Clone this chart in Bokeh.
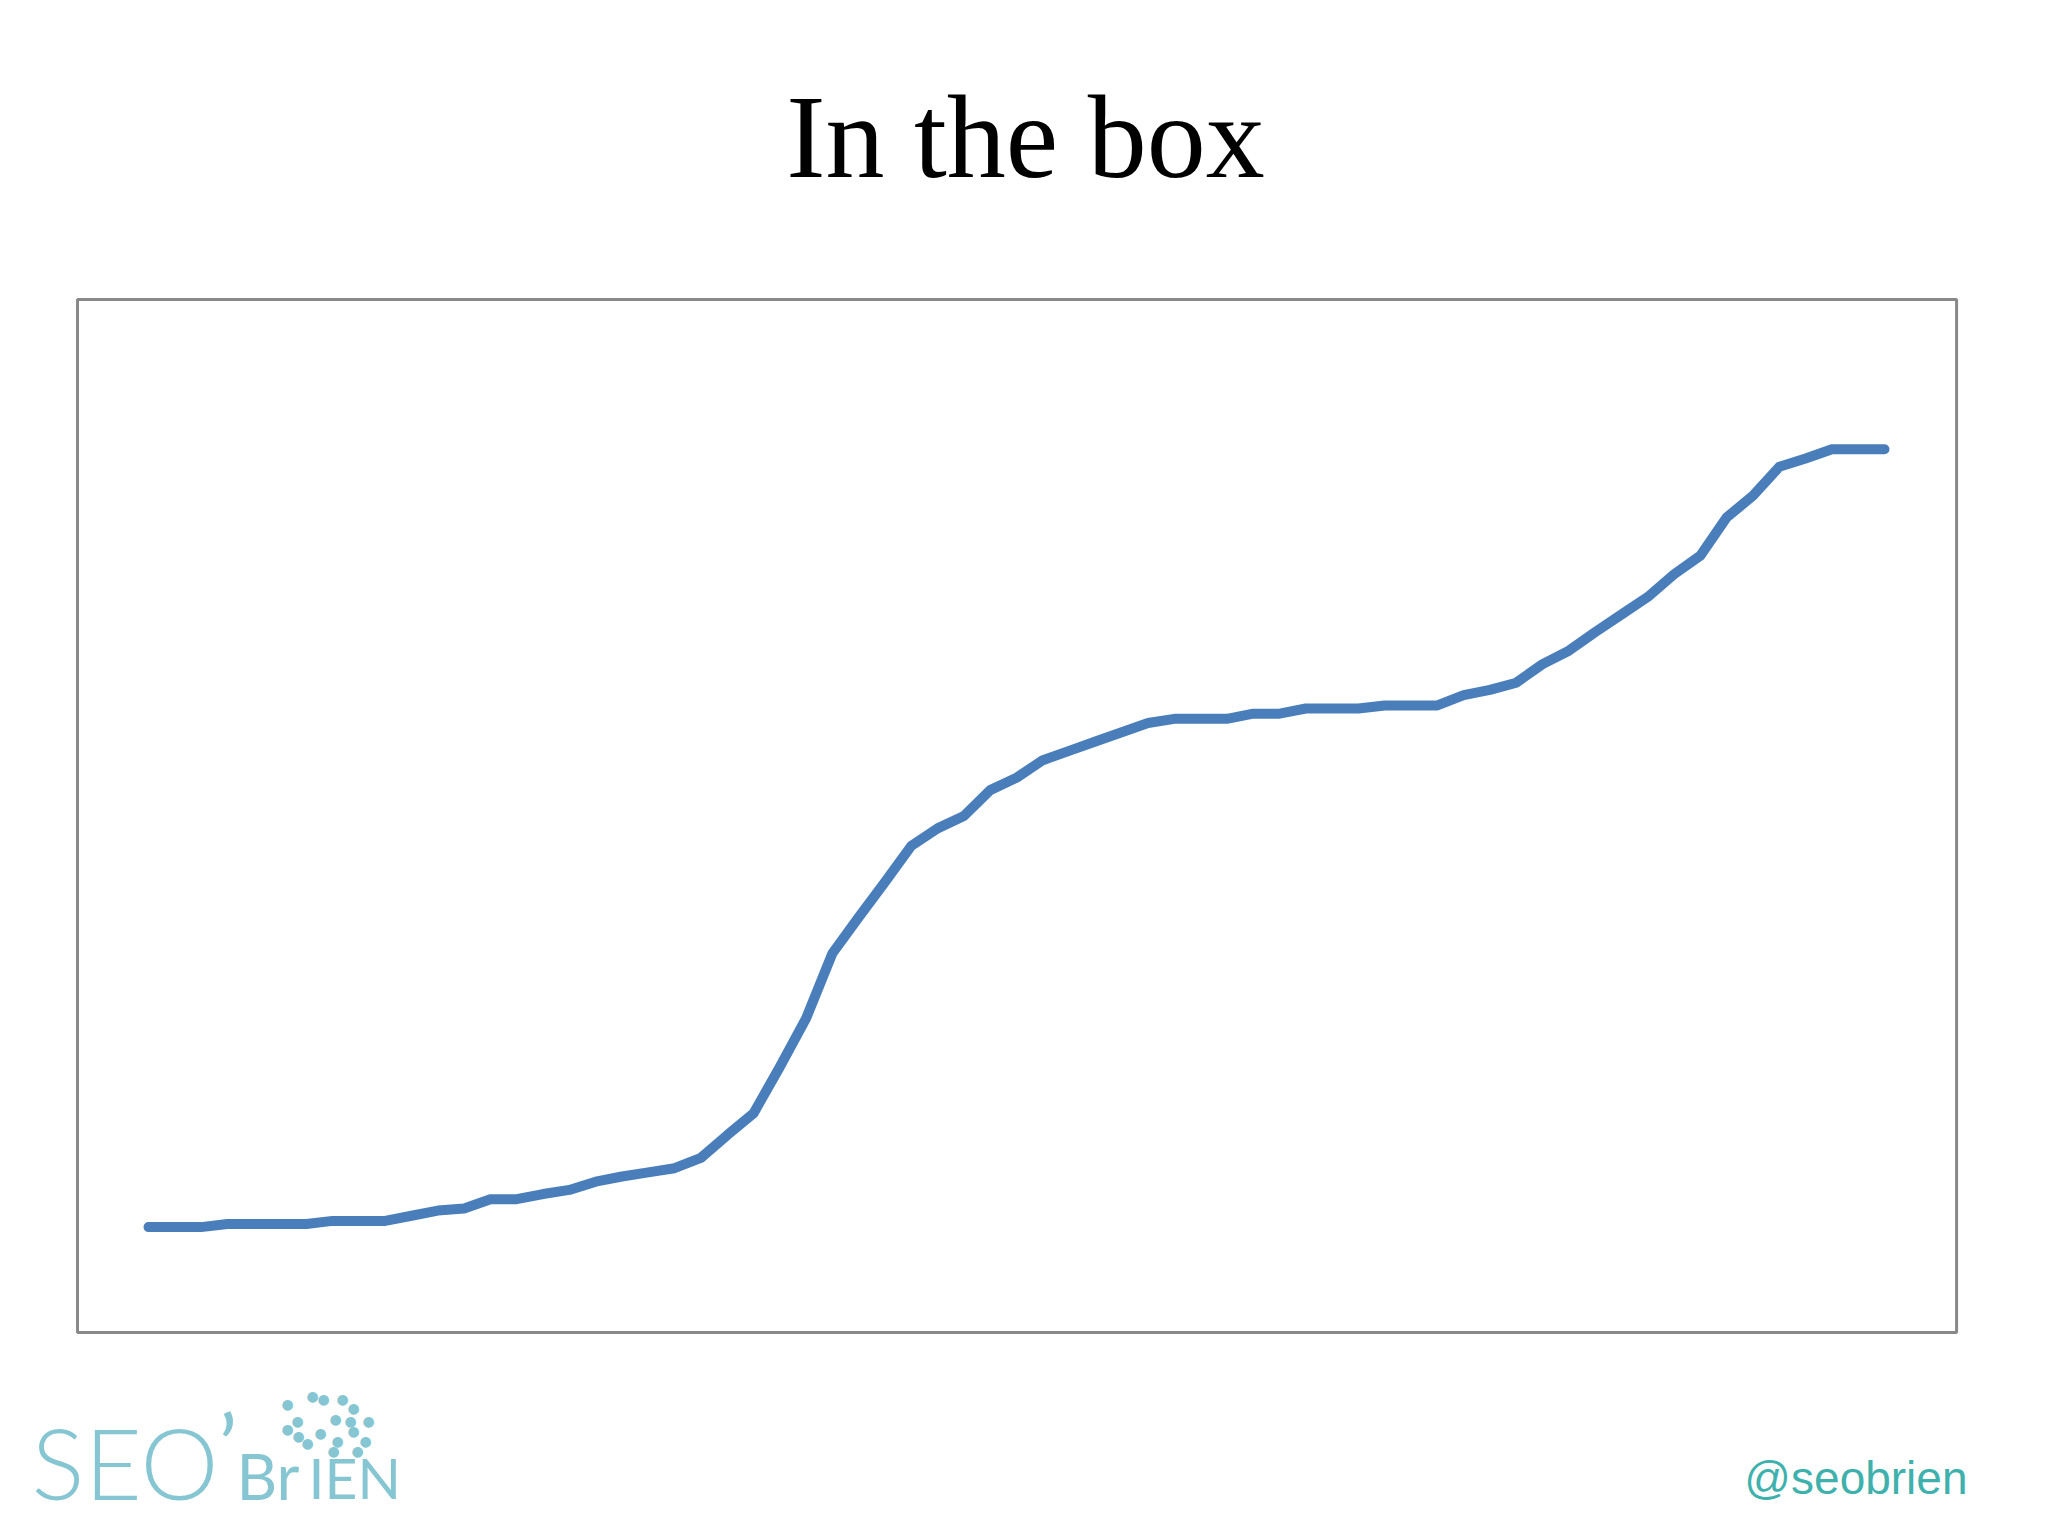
from bokeh.plotting import figure
from bokeh.models import Range1d, Label, ColumnDataSource, BoxAnnotation
from bokeh.embed import file_html
from bokeh.resources import INLINE

# ---- data ----
categories = list(range(1, 68))
values = [
    10.2, 10.2, 10.2, 10.5, 10.5, 10.5, 10.5, 10.8, 10.8, 10.8,
    11.3, 11.8, 12.0, 12.9, 12.9, 13.4, 13.8, 14.6, 15.1, 15.5,
    15.9, 16.9, 19.1, 21.2, 25.7, 30.4, 36.7, 40.2, 43.6, 47.1,
    48.8, 50.0, 52.5, 53.7, 55.4, 56.3, 57.2, 58.1, 59.0, 59.4,
    59.4, 59.4, 59.9, 59.9, 60.4, 60.4, 60.4, 60.7, 60.7, 60.7,
    61.7, 62.2, 62.9, 64.7, 66.0, 67.8, 69.5, 71.2, 73.4, 75.2,
    78.9, 81.0, 83.8, 84.6, 85.5, 85.5, 85.5,
]
title_text = "In the box"
handle_text = "@seobrien"
logo_parts = ["SEO", "\u2019", "Br", "IEN"]

src = ColumnDataSource(data=dict(x=categories, y=values))

W, H = 2032, 1527
p = figure(
    width=W, height=H,
    output_backend="svg", toolbar_location=None,
    x_range=Range1d(-4.627, 72.626), y_range=Range1d(-18.88, 128.94),
    x_axis_type=None, y_axis_type=None,
    min_border=0,
)
p.outline_line_color = None
p.background_fill_color = "white"
p.border_fill_color = "white"

# plot-area box
p.add_layout(BoxAnnotation(left=-1.70, right=69.74, bottom=0, top=100,
                           fill_alpha=0, line_color="#898989", line_width=3,
                           line_alpha=1))

p.line("x", "y", source=src, line_color="#4A7EBB", line_width=10,
       line_cap="round", line_join="round")

def lab(x, y_page, text, font, size, color, align="left"):
    # y_page = vertical centre of the text box, in page pixels from the top
    p.add_layout(Label(x=x, y=H - y_page, x_units="screen", y_units="screen",
                       text=text, text_font=font, text_font_size=f"{size}px",
                       text_align=align, text_baseline="middle",
                       text_color=color))

# title (baseline ~177)
lab(1025, 177 - 0.3375 * 118, title_text, "Liberation Serif", 118, "black", align="center")

# handle (baseline ~1493)
lab(1967, 1493 - 0.3465 * 46, handle_text, "Liberation Sans", 46, "#3FB1AD", align="right")

# logo
logo_col = "#86C6D2"
lab(31, 1499 - 0.387 * 99, logo_parts[0], "Lato Light, Lato", 99, logo_col)
lab(218, 1478 - 0.387 * 88, logo_parts[1], "Lato", 88, logo_col)
lab(236, 1499 - 0.387 * 63, logo_parts[2], "Lato", 63, logo_col)
lab(308, 1499 - 0.387 * 57, logo_parts[3], "Lato", 57, logo_col)

leaves = [(312, 1395), (323, 1398), (342, 1398), (287, 1403), (353, 1407),
          (297, 1420), (335, 1418), (350, 1420), (368, 1420), (287, 1428),
          (320, 1432), (353, 1430), (298, 1435), (337, 1440), (365, 1440),
          (307, 1442), (333, 1450), (357, 1450)]
for lx, ly in leaves:
    lab(lx, ly, "\u25CF", "DejaVu Sans", 14, logo_col, align="center")

open("out.html", "w").write(file_html(p, INLINE))
